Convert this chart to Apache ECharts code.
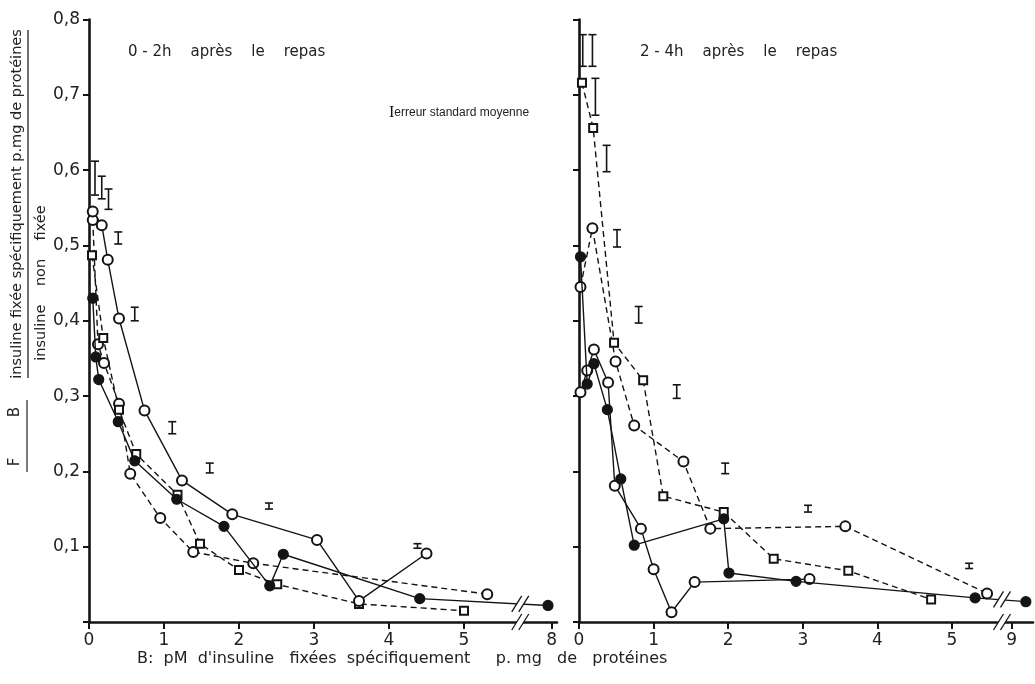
<!DOCTYPE html>
<html><head><meta charset="utf-8">
<script src="https://cdn.jsdelivr.net/npm/echarts@6/dist/echarts.min.js"></script>
<style>html,body{margin:0;padding:0;background:#fff}#c{width:1035px;height:684px}</style>
</head><body><div id="c"></div>
<script>
// ---------- DATA ----------
// Left panel: 0-2h après le repas (x = B in pM / mg protein, y = B/F)
const leftOpenSolidX  = [0.05, 0.17, 0.25, 0.40, 0.74, 1.24, 1.91, 3.04, 3.60, 4.50];
const leftOpenSolidY  = [0.545, 0.527, 0.481, 0.403, 0.281, 0.188, 0.143, 0.109, 0.028, 0.091];
const leftFilledX     = [0.05, 0.09, 0.13, 0.39, 0.61, 1.17, 1.80, 2.41, 2.59, 4.41, 7.95];
const leftFilledY     = [0.430, 0.352, 0.322, 0.266, 0.214, 0.163, 0.127, 0.048, 0.090, 0.031, 0.022];
const leftOpenDashX   = [0.05, 0.12, 0.20, 0.40, 0.55, 0.95, 1.39, 2.19, 5.31];
const leftOpenDashY   = [0.534, 0.369, 0.344, 0.290, 0.197, 0.138, 0.093, 0.078, 0.037];
const leftSquareX     = [0.04, 0.19, 0.40, 0.63, 1.18, 1.48, 2.00, 2.51, 3.60, 5.00];
const leftSquareY     = [0.487, 0.377, 0.282, 0.223, 0.169, 0.104, 0.069, 0.050, 0.024, 0.015];
const leftErrX  = [0.08, 0.17, 0.26, 0.39, 0.61, 1.11, 1.61, 2.40, 4.38];
const leftErrLo = [0.567, 0.562, 0.548, 0.502, 0.400, 0.250, 0.198, 0.150, 0.098];
const leftErrHi = [0.612, 0.592, 0.575, 0.518, 0.418, 0.266, 0.211, 0.158, 0.104];

// Right panel: 2-4h après le repas
const rightFilledX    = [0.02, 0.11, 0.20, 0.38, 0.56, 0.74, 1.94, 2.01, 2.91, 5.31, 9.19];
const rightFilledY    = [0.485, 0.316, 0.343, 0.282, 0.190, 0.102, 0.137, 0.065, 0.054, 0.032, 0.027];
const rightOpenSolidX = [0.02, 0.11, 0.20, 0.39, 0.48, 0.83, 1.00, 1.24, 1.55, 3.09];
const rightOpenSolidY = [0.305, 0.334, 0.362, 0.318, 0.181, 0.124, 0.070, 0.013, 0.053, 0.057];
const rightOpenDashX  = [0.02, 0.18, 0.49, 0.74, 1.40, 1.76, 3.57, 5.47];
const rightOpenDashY  = [0.445, 0.523, 0.346, 0.261, 0.213, 0.124, 0.127, 0.038];
const rightSquareX    = [0.04, 0.19, 0.47, 0.86, 1.13, 1.94, 2.61, 3.61, 4.72];
const rightSquareY    = [0.716, 0.656, 0.371, 0.321, 0.167, 0.146, 0.084, 0.068, 0.030];
const rightErrX  = [0.05, 0.18, 0.22, 0.37, 0.51, 0.80, 1.31, 1.96, 3.07, 5.23];
const rightErrLo = [0.738, 0.738, 0.673, 0.598, 0.498, 0.397, 0.297, 0.197, 0.146, 0.071];
const rightErrHi = [0.780, 0.780, 0.722, 0.633, 0.521, 0.419, 0.315, 0.211, 0.155, 0.078];

// Tick values / labels
const leftXTicks   = [0, 1, 2, 3, 4, 5, 8];
const rightXTicks  = [0, 1, 2, 3, 4, 5, 9];
const yTicks       = [0.1, 0.2, 0.3, 0.4, 0.5, 0.6, 0.7, 0.8];

// Axis breaks (real value after which the axis is shortened, and the shift)
const breakAfter = [6, 6];
const breakShift = [1.83, 3.20];
const breakMarkX = [5.75, 5.67];      // display position of the "//" marks
const breakLineY = [0.024, 0.030];    // where the data line crosses the break

// ---------- BUILD ----------
const FONT = 'DejaVu Sans';
const INK = '#141414';
function disp(p, x) { return x > breakAfter[p] ? x - breakShift[p] : x; }

function lineSeries(p, xs, ys, kind, dashed) {
  const sym = kind === 'filled' ? 'circle' : (kind === 'square' ? 'emptyRect' : 'emptyCircle');
  return {
    type: 'line', xAxisIndex: p, yAxisIndex: p,
    data: xs.map((x, i) => [disp(p, x), ys[i]]),
    symbol: sym, symbolSize: kind === 'square' ? 8 : 10, showAllSymbol: true,
    lineStyle: { color: INK, width: 1.4, type: dashed ? [6, 4] : 'solid' },
    itemStyle: { color: INK, borderColor: INK, borderWidth: 1.2 },
    emphasis: { disabled: true }, silent: true, animation: false,
    z: kind === 'filled' ? 4 : 3
  };
}

function errSeries(p, xs, lo, hi) {
  return {
    type: 'custom', xAxisIndex: p, yAxisIndex: p, silent: true, animation: false, z: 5,
    data: xs.map((x, i) => [disp(p, x), lo[i], hi[i]]),
    renderItem: function (params, api) {
      const a = api.coord([api.value(0), api.value(1)]);
      const b = api.coord([api.value(0), api.value(2)]);
      const w = 4;
      const st = { stroke: INK, lineWidth: 1.6 };
      return { type: 'group', children: [
        { type: 'line', shape: { x1: a[0], y1: a[1], x2: b[0], y2: b[1] }, style: st },
        { type: 'line', shape: { x1: a[0] - w, y1: a[1], x2: a[0] + w, y2: a[1] }, style: st },
        { type: 'line', shape: { x1: b[0] - w, y1: b[1], x2: b[0] + w, y2: b[1] }, style: st }
      ]};
    }
  };
}

function breakSeries(p) {
  return {
    type: 'custom', xAxisIndex: p, yAxisIndex: p, silent: true, animation: false, z: 10,
    data: [[breakMarkX[p], 0], [breakMarkX[p], breakLineY[p]]],
    renderItem: function (params, api) {
      const c = api.coord([api.value(0), api.value(1)]);
      const h = 8, s = 5, g = 3.5;
      return { type: 'group', children: [
        { type: 'polygon', shape: { points: [[c[0] - g - s, c[1] + h], [c[0] + g - s, c[1] + h], [c[0] + g + s, c[1] - h], [c[0] - g + s, c[1] - h]] }, style: { fill: '#fff' } },
        { type: 'line', shape: { x1: c[0] - g - s, y1: c[1] + h, x2: c[0] - g + s, y2: c[1] - h }, style: { stroke: INK, lineWidth: 1.3 } },
        { type: 'line', shape: { x1: c[0] + g - s, y1: c[1] + h, x2: c[0] + g + s, y2: c[1] - h }, style: { stroke: INK, lineWidth: 1.3 } }
      ]};
    }
  };
}

function xAxis(p, ticks, max) {
  const dv = ticks.map(t => disp(p, t));
  return {
    type: 'value', gridIndex: p, min: 0, max: max,
    axisLine: { show: true, onZero: false, lineStyle: { color: INK, width: 2.6 } },
    axisTick: { show: true, customValues: dv, length: 7, lineStyle: { color: INK, width: 2 } },
    axisLabel: { customValues: dv, margin: 10, fontFamily: FONT, fontSize: 17, color: '#222',
      formatter: v => { const i = dv.findIndex(d => Math.abs(d - v) < 1e-6); return i >= 0 ? String(ticks[i]) : ''; } },
    splitLine: { show: false }
  };
}

function yAxis(p, showLabels) {
  return {
    type: 'value', gridIndex: p, min: 0, max: 0.8, interval: 0.1,
    axisLine: { show: true, onZero: false, lineStyle: { color: INK, width: 2.6 } },
    axisTick: { show: true, length: 6, lineStyle: { color: INK, width: 2 } },
    axisLabel: { show: showLabels, margin: 9, fontFamily: FONT, fontSize: 17, color: '#222',
      formatter: v => (yTicks.some(t => Math.abs(t - v) < 1e-6) ? v.toFixed(1).replace('.', ',') : '') },
    splitLine: { show: false }
  };
}

const option = {
  backgroundColor: '#fff',
  animation: false,
  grid: [
    { left: 89, top: 19.6, width: 468, height: 602.4 },
    { left: 579, top: 19.6, width: 454, height: 602.4 }
  ],
  xAxis: [xAxis(0, leftXTicks, 468 / 75), xAxis(1, rightXTicks, 454 / 74.6)],
  yAxis: [yAxis(0, true), yAxis(1, false)],
  series: [
    lineSeries(0, leftOpenDashX, leftOpenDashY, 'open', true),
    lineSeries(0, leftSquareX, leftSquareY, 'square', true),
    lineSeries(0, leftOpenSolidX, leftOpenSolidY, 'open', false),
    lineSeries(0, leftFilledX, leftFilledY, 'filled', false),
    errSeries(0, leftErrX, leftErrLo, leftErrHi),
    breakSeries(0),
    lineSeries(1, rightOpenDashX, rightOpenDashY, 'open', true),
    lineSeries(1, rightSquareX, rightSquareY, 'square', true),
    lineSeries(1, rightOpenSolidX, rightOpenSolidY, 'open', false),
    lineSeries(1, rightFilledX, rightFilledY, 'filled', false),
    errSeries(1, rightErrX, rightErrLo, rightErrHi),
    breakSeries(1)
  ],
  graphic: [
    { type: 'text', left: 128, top: 45, style: { text: '0 - 2h    après    le    repas', font: '15px "DejaVu Sans"', fill: '#222' } },
    { type: 'text', left: 640, top: 45, style: { text: '2 - 4h    après    le    repas', font: '15px "DejaVu Sans"', fill: '#222' } },
    { type: 'text', left: 389, top: 105, style: { text: '{b|I}erreur standard moyenne', font: '12px "Liberation Sans"', fill: '#222',
        rich: { b: { fontFamily: 'Liberation Serif', fontSize: 16, fill: '#111' } } } },
    { type: 'text', left: 137, top: 651, style: { text: "B:  pM  d'insuline   fixées  spécifiquement     p. mg   de   protéines", font: '16px "DejaVu Sans"', fill: '#222' } },
    { type: 'text', x: 17, y: 204, rotation: Math.PI / 2, style: { text: 'insuline fixée spécifiquement p.mg de protéines', font: '14.5px "DejaVu Sans"', fill: '#222', align: 'center', verticalAlign: 'middle' } },
    { type: 'text', x: 41, y: 283, rotation: Math.PI / 2, style: { text: 'insuline    non    fixée', font: '14.5px "DejaVu Sans"', fill: '#222', align: 'center', verticalAlign: 'middle' } },
    { type: 'line', shape: { x1: 28, y1: 30, x2: 28, y2: 378 }, style: { stroke: '#222', lineWidth: 1.3 } },
    { type: 'text', x: 15, y: 412, rotation: Math.PI / 2, style: { text: 'B', font: '15px "DejaVu Sans"', fill: '#222', align: 'center', verticalAlign: 'middle' } },
    { type: 'text', x: 15, y: 462, rotation: Math.PI / 2, style: { text: 'F', font: '15px "DejaVu Sans"', fill: '#222', align: 'center', verticalAlign: 'middle' } },
    { type: 'line', shape: { x1: 27, y1: 400, x2: 27, y2: 472 }, style: { stroke: '#222', lineWidth: 1.2 } }
  ]
};

const chart = echarts.init(document.getElementById('c'), null, { renderer: 'canvas' });
chart.setOption(option);
</script></body></html>
